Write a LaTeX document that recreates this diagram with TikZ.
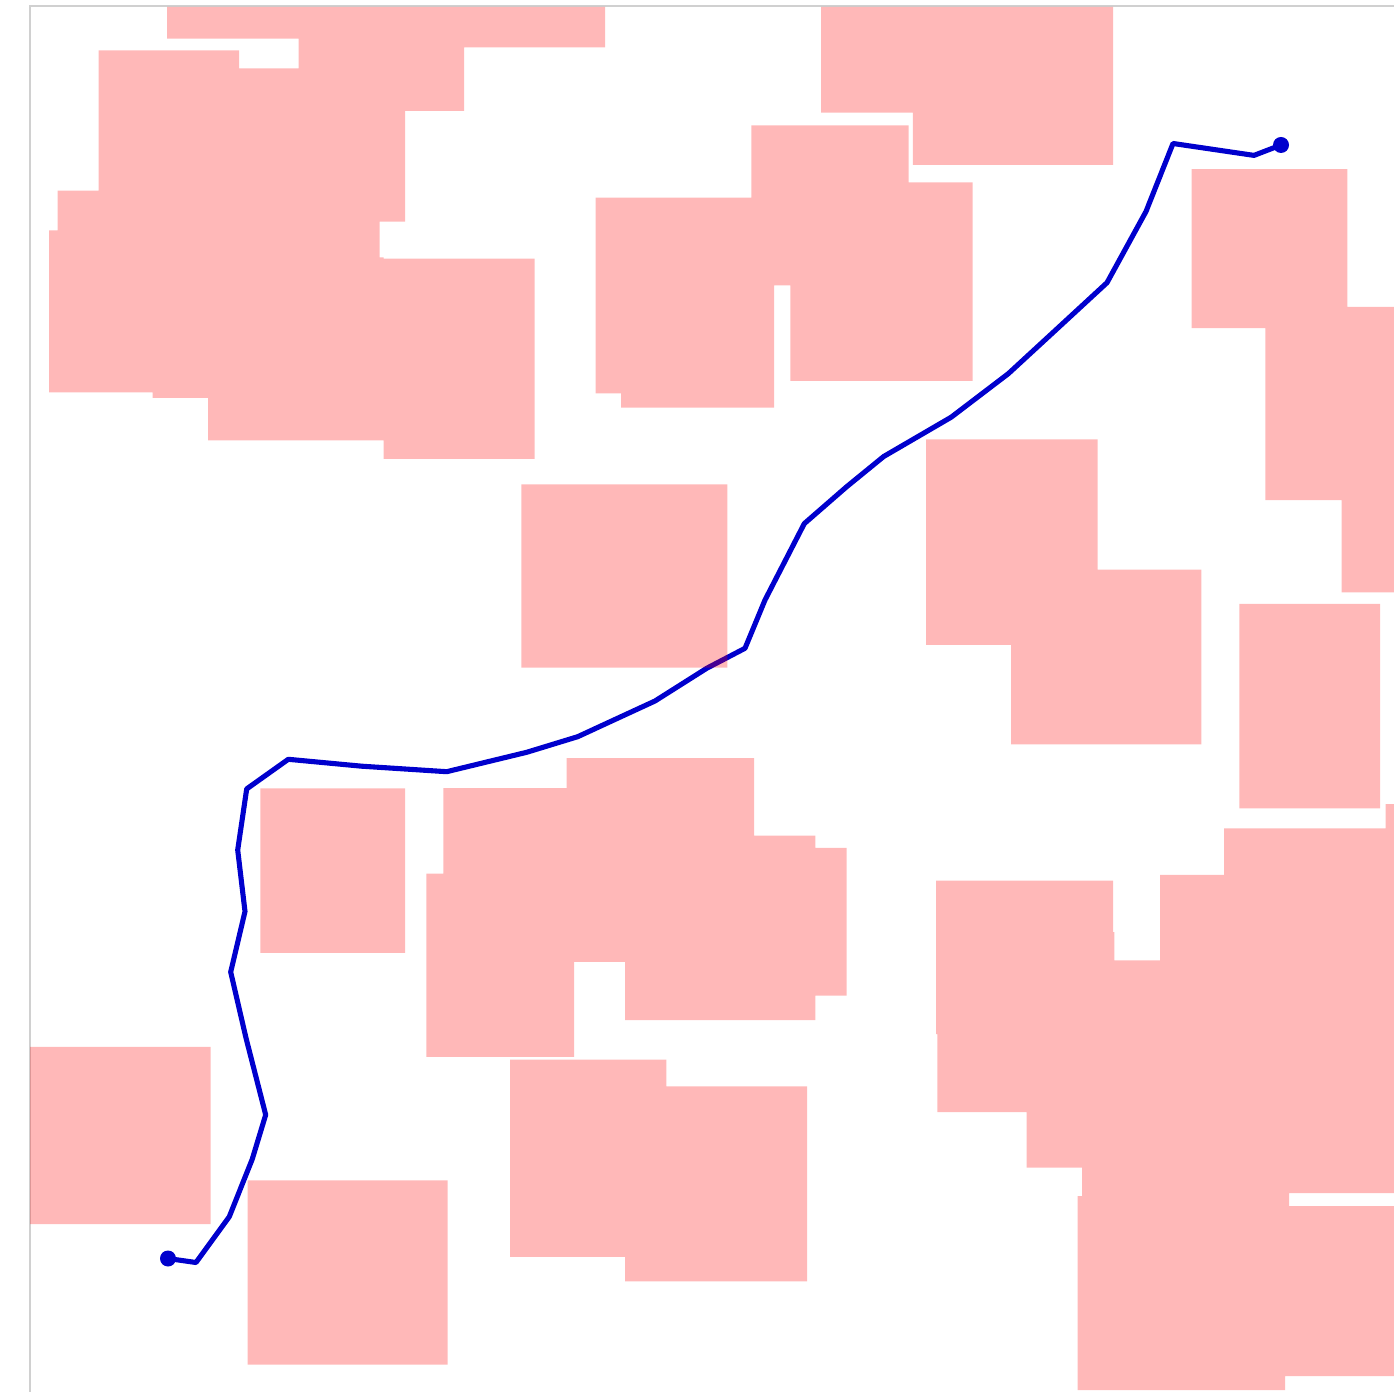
\documentclass[tikz,border=0pt]{standalone}
\usepackage{tikz}
\usetikzlibrary{positioning}
\definecolor{routeBlue}{HTML}{0000CD}
\definecolor{frameGray}{HTML}{D0D0D0}
\tikzset{
  obstacle/.style={fill=red, fill opacity=0.28},
  route/.style={draw=routeBlue, line width=1.45pt, line join=round},
  wayend/.style={fill=routeBlue},
  frameline/.style={draw=frameGray, line width=0.45pt},
}

\begin{document}
\begin{tikzpicture}[x=0.01cm, y=-0.01cm]
  \useasboundingbox (0,0) rectangle (1394,1392);
  \clip (0,0) rectangle (1394,1392);
  % plot frame
  \draw[frameline] (30,1400) -- (30,6) -- (1400,6);
  % planned route
  \coordinate (start) at (168,1258.5);
  \coordinate (goal) at (1281,145);
  \draw[route] (start) -- (196,1262.5) -- (229.3,1216.7) -- (252.3,1159) -- (265.7,1114.8)
    -- (246,1038) -- (230.7,972) -- (245,911.5) -- (237.7,850) -- (246.7,788.9)
    -- (288.3,759.3) -- (361.7,766.2) -- (446.7,771.7) -- (526.7,752.3) -- (577.7,736.7)
    -- (655,701) -- (706.7,668.3) -- (745,648.3) -- (765,600) -- (804.3,523.6)
    -- (846.7,486.7) -- (883.7,456.5) -- (951.2,417.2) -- (1008.3,373.7) -- (1057.7,328.2)
    -- (1107,282.7) -- (1146,211.5) -- (1173,143.5) -- (1254,155.4) -- (goal);
  % obstacles, one path so overlaps merge
  \path[obstacle]
    % upper left block
    (167,7) rectangle (298.5,38.7)
    (298.5,7) rectangle (605,47.3)
    (298.5,38) rectangle (464,111)
    (98.5,50.3) rectangle (239,230.3)
    (239,68.3) rectangle (405,221.7)
    (57.7,190.7) rectangle (379.6,260)
    (49,230.3) rectangle (379.6,392.3)
    (208,257.3) rectangle (383.5,440.3)
    (383.5,258.7) rectangle (534.6,459)
    (152.6,300) rectangle (208,398)
    % upper middle and right
    (821,7) rectangle (1113,112.7)
    (912.8,100) rectangle (1113,164.9)
    (595.6,197.7) rectangle (774.2,393.4)
    (621,300) rectangle (774.2,407.7)
    (751.3,125.3) rectangle (908.7,285.5)
    (790.3,182.3) rectangle (972.5,380.8)
    (1191.6,169.2) rectangle (1347.4,328.2)
    (1265.4,306.8) rectangle (1400,500.2)
    (1341.7,480) rectangle (1400,592.3)
    % centre
    (521.3,484.3) rectangle (727.3,667.7)
    (926,439.3) rectangle (1097.7,645)
    (1011,569.7) rectangle (1201.3,744.3)
    (1239.3,604) rectangle (1380,808.3)
    % lower left
    (260.3,788.4) rectangle (405,952.8)
    (30,1046.9) rectangle (210.7,1224.1)
    (247.7,1180.3) rectangle (447.7,1364.5)
    % lower middle
    (426.3,873.6) rectangle (574,1056.8)
    (443.3,788.2) rectangle (566.7,900)
    (566.7,758.2) rectangle (754,961.8)
    (625,835.7) rectangle (815.3,1020)
    (754,847.9) rectangle (846.7,995.7)
    (510,1059.6) rectangle (666.3,1256.8)
    (625,1086.4) rectangle (807,1281.4)
    % lower right block
    (1385.7,804.2) rectangle (1400,1193)
    (1224,828.4) rectangle (1400,1193)
    (1160,874.8) rectangle (1400,1193)
    (1114.3,960.3) rectangle (1400,1193)
    (936,880.7) rectangle (1113,1034)
    (937.3,932.2) rectangle (1114.3,1112.2)
    (1026.7,1000) rectangle (1400,1167.6)
    (1082,1100) rectangle (1289,1206.2)
    (1077.7,1196.1) rectangle (1285,1390)
    (1285,1206.2) rectangle (1400,1376);
  % route ends
  \fill[wayend] (start) circle (8);
  \fill[wayend] (goal) circle (8);
\end{tikzpicture}
\end{document}
